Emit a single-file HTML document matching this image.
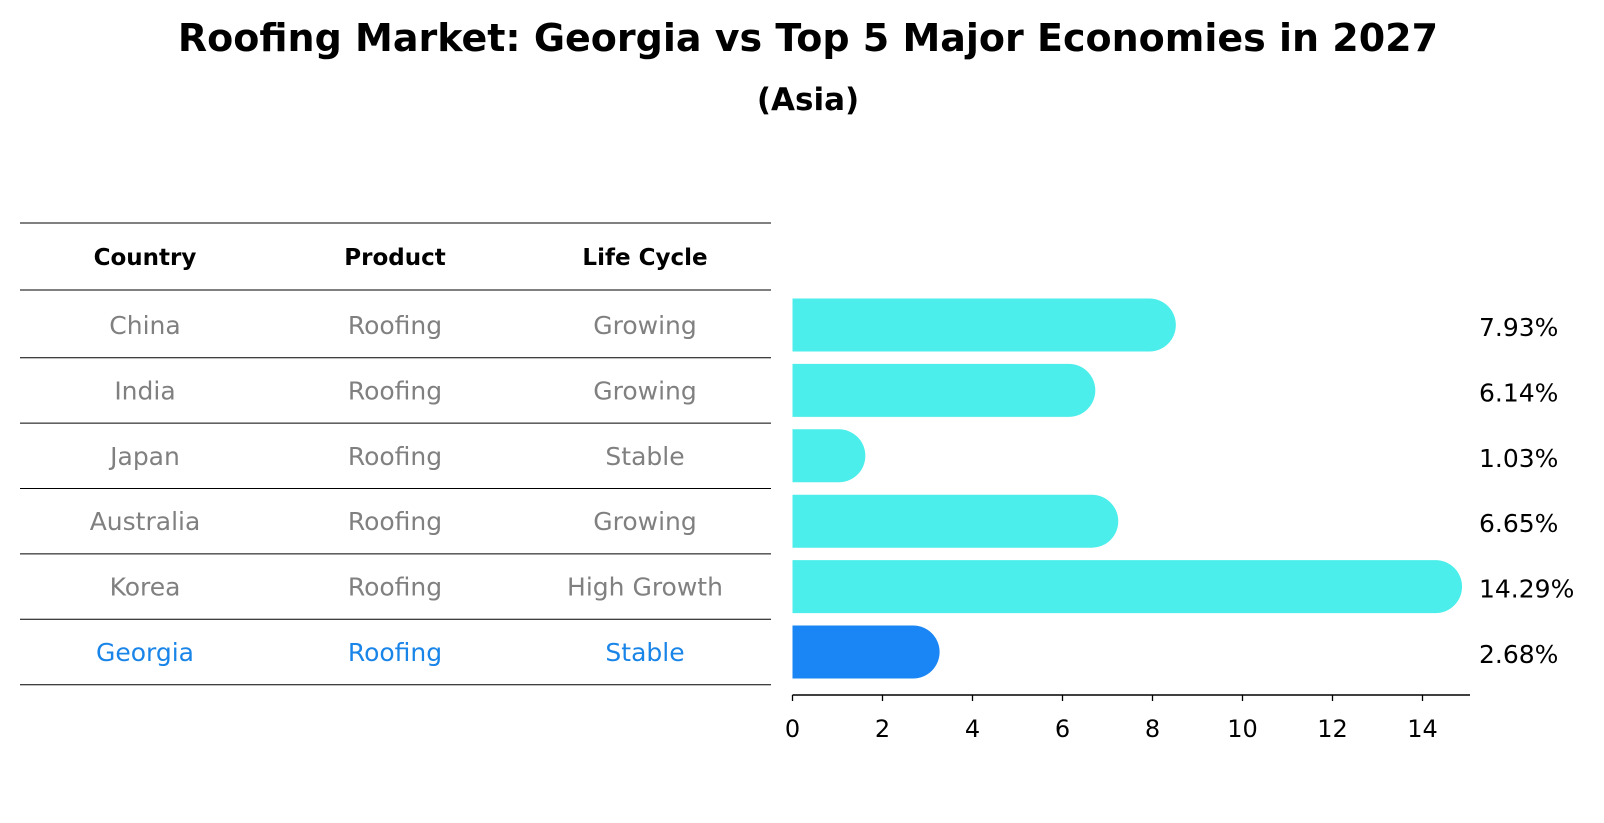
<!DOCTYPE html>
<html><head><meta charset="utf-8"><style>
body{margin:0;background:#fff;}
svg{display:block;font-family:"DejaVu Sans","Liberation Sans",sans-serif;}
</style></head><body>
<svg id="chart" width="1604" height="823" viewBox="0 0 1604 823">
<text x="808" y="51" text-anchor="middle" font-size="38" font-weight="bold">Roofing Market: Georgia vs Top 5 Major Economies in 2027</text>
<text x="808" y="110" text-anchor="middle" font-size="31" font-weight="bold">(Asia)</text>
<g id="table"></g>
<g id="bars"></g>
</svg>
<script>
const countries=["China","India","Japan","Australia","Korea","Georgia"];
const products=["Roofing","Roofing","Roofing","Roofing","Roofing","Roofing"];
const lifeCycles=["Growing","Growing","Stable","Growing","High Growth","Stable"];
const values=[7.93,6.14,1.03,6.65,14.29,2.68];
const labels=["7.93%","6.14%","1.03%","6.65%","14.29%","2.68%"];
const ticks=[0,2,4,6,8,10,12,14];
const highlight="Georgia";

const NS="http://www.w3.org/2000/svg";
function mk(tag,attrs,parent){const e=document.createElementNS(NS,tag);for(const k in attrs)e.setAttribute(k,attrs[k]);parent.appendChild(e);return e;}
const x0=792.5, unit=45.0;
const xs=v=>x0+v*unit;
const rowY=i=>325+i*65.4;
const barH=53, r=barH/2;

const table=document.getElementById('table');
const lineYs=[223,290];
for(let i=0;i<countries.length;i++)lineYs.push(rowY(i)+32.7);
lineYs.forEach((y,i)=>{
  const l=mk('line',{x1:20,x2:771,y1:y,y2:y,stroke:'#000','stroke-width':1},table);
  
  
});
const colX=[145,395,645];
["Country","Product","Life Cycle"].forEach((h,j)=>{
  const t=mk('text',{x:colX[j],y:265,'text-anchor':'middle','font-size':23,'font-weight':'bold'},table);
  t.textContent=h;
  
  
});
countries.forEach((c,i)=>{
  const col=c===highlight?'#1a85e8':'#808080';
  [c,products[i],lifeCycles[i]].forEach((v,j)=>{
    const t=mk('text',{x:colX[j],y:rowY(i)+9,'text-anchor':'middle','font-size':25,fill:col},table);
    t.textContent=v;
    
    
  });
});

const bars=document.getElementById('bars');
values.forEach((v,i)=>{
  const y=rowY(i)-r, xe=xs(v);
  const col=countries[i]===highlight?'#1a85f5':'#4beeea';
  const p=mk('path',{d:`M${x0},${y} L${xe},${y} A${r},${r} 0 0 1 ${xe},${y+barH} L${x0},${y+barH} Z`,fill:col},bars);
  
  
  const t=mk('text',{x:1479,y:rowY(i)+11,'font-size':25},bars);
  t.textContent=labels[i];
  
  
});
const ax=mk('line',{x1:x0,x2:1470,y1:695,y2:695,stroke:'#000','stroke-width':1.5},bars);


ticks.forEach(tv=>{
  const tl=mk('line',{x1:xs(tv),x2:xs(tv),y1:695,y2:701,stroke:'#000','stroke-width':1.3},bars);
  
  
  const t=mk('text',{x:xs(tv),y:737,'text-anchor':'middle','font-size':24},bars);
  t.textContent=tv;
  
  
});
</script>
</body></html>
